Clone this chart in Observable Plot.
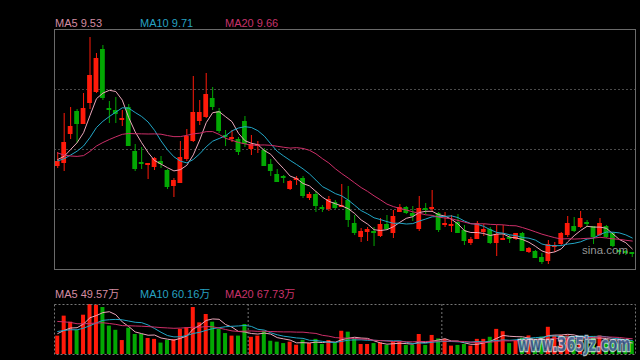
<!DOCTYPE html>
<html><head><meta charset="utf-8">
<script src="https://cdn.jsdelivr.net/npm/d3@7"></script>
<script src="https://cdn.jsdelivr.net/npm/@observablehq/plot@0.6"></script>
<style>
html,body{margin:0;padding:0;background:#000;width:640px;height:360px;overflow:hidden;}
#wrap{position:relative;width:640px;height:360px;font-family:"Liberation Sans",Arial,"Noto Sans CJK SC",sans-serif;}
.lbl{position:absolute;font-size:11px;line-height:11px;white-space:nowrap;}
#main{position:absolute;left:0;top:0;}
#vol{position:absolute;left:0;top:300px;}
#over{position:absolute;left:0;top:0;pointer-events:none;}
</style></head><body>
<div id="wrap"><div id="main"></div><div id="vol"></div></div>
<script>
// ---- data (prices in yuan, volumes in 万) ----
const opens = [11.16,11.22,11.80,12.26,12.00,12.42,12.64,13.50,12.32,12.28, 12.08,12.34,11.46,11.24,11.18,11.14,11.26,11.08,10.76,10.82, 11.30,11.66,12.06,12.14,12.52,12.26,11.78,11.70,11.70,12.06, 11.50,11.56,11.48,11.20,11.00,10.96,10.70,10.88,10.92,10.52, 10.60,10.34,10.30,10.44,10.34,10.48,10.02,9.74,9.84,9.86, 9.76,10.00,9.82,10.24,10.34,10.22,9.90,10.32,10.30,10.22, 9.98,9.96,10.04,9.88,9.62,9.70,9.84,9.90,9.62,9.68, 9.74,9.70,9.82,9.44,9.46,9.34,9.26,9.54,9.60,9.78, 9.96,9.94,10.04,9.96,9.78,9.96,9.82,9.48,9.46,9.44];
const highs = [11.44,12.22,12.34,12.30,12.62,13.74,13.42,13.58,12.46,12.54, 12.28,12.40,11.60,11.54,11.22,11.34,11.36,11.10,10.92,11.66, 11.90,12.96,12.48,13.02,12.74,12.32,11.88,11.88,11.74,12.16, 11.78,11.66,11.52,11.30,11.10,10.98,10.88,10.96,10.96,10.64, 10.66,10.38,10.56,10.48,10.80,10.76,10.18,9.92,9.94,9.94, 10.12,10.18,10.28,10.40,10.36,10.36,10.56,10.42,10.68,10.24, 10.24,10.18,10.20,9.98,9.74,10.06,10.00,9.94,9.98,9.98, 9.78,9.82,9.84,9.54,9.48,9.42,9.68,9.64,9.84,10.16, 10.14,10.26,10.08,9.96,10.12,9.98,9.84,9.48,9.48,9.44];
const lows = [11.12,11.06,11.70,11.62,12.00,12.30,12.62,12.48,12.02,12.02, 11.96,11.56,11.06,11.10,10.90,11.08,11.12,10.70,10.54,10.82, 11.26,11.64,11.98,12.12,12.28,11.82,11.56,11.64,11.38,11.54, 11.38,11.42,11.16,10.96,10.84,10.82,10.68,10.78,10.52,10.48, 10.24,10.24,10.26,10.30,10.34,9.94,9.78,9.64,9.66,9.56, 9.74,9.88,9.72,10.24,10.20,10.06,9.86,10.20,10.24,9.84, 9.94,9.84,9.82,9.58,9.58,9.70,9.76,9.60,9.36,9.68, 9.62,9.68,9.46,9.42,9.32,9.20,9.20,9.44,9.56,9.74, 9.84,9.92,9.94,9.60,9.76,9.72,9.54,9.38,9.38,9.34];
const closes = [11.26,11.64,11.96,12.00,12.32,12.98,13.32,12.52,12.28,12.20, 12.12,11.56,11.10,11.20,11.22,11.32,11.20,10.74,10.88,11.34, 11.76,12.24,12.24,12.60,12.34,11.86,11.74,11.74,11.44,11.60, 11.60,11.60,11.16,11.06,10.84,10.92,10.86,10.92,10.56,10.60, 10.36,10.30,10.50,10.32,10.38,10.08,9.82,9.86,9.90,9.82, 10.00,9.90,10.16,10.34,10.22,10.16,10.32,10.28,10.34,9.88, 10.02,10.00,9.82,9.66,9.70,10.02,9.90,9.62,9.80,9.72, 9.70,9.82,9.46,9.52,9.32,9.24,9.60,9.58,9.82,10.02, 9.86,10.12,10.00,9.74,10.02,9.74,9.56,9.44,9.42,9.40];
const volumes = [79,165,139,103,169,215,212,202,122,104, 60,113,86,86,69,65,49,61,64,108, 115,202,136,172,139,108,90,79,79,129, 74,79,100,57,53,47,53,40,61,47, 65,43,60,50,100,96,65,43,43,47, 50,39,53,53,39,39,86,39,82,67, 65,36,39,43,36,65,65,74,108,98, 47,57,70,80,65,75,117,80,82,80, 62,75,60,78,80,50,55,45,42,56];
// sessions before the visible window (seed the moving averages)
const histCloses = [12.48,12.32,12.16,12.00,11.28,11.18,11.12,11.08,11.12,11.14,11.20,11.22,11.24,11.28,11.28,11.32,11.28,11.32,11.32];
const histVolumes = [200,190,210,180,175,190,170,185,180,170,120,110,105,100,105,95,90,96,90];
const maNames = ["MA5", "MA10", "MA20"];
const maWindows = [5, 10, 20];
const maPriceLast = [9.53, 9.71, 9.66];
const maVolLast = [49.57, 60.16, 67.73];
const gridPrices = [10.3, 11.5, 12.7];
const periodStarts = [30, 60];

// ---- styles ----
const RED = "#ff1a0a", GREEN = "#03a803";
const maLine = ["#eca6ba", "#22a6c6", "#cd2f69"];
const maText = ["#d48ca2", "#27a2c2", "#c8336a"];

const candles = opens.map((o, i) => ({i, open: o, high: highs[i], low: lows[i], close: closes[i], volume: volumes[i]}));
const history = histCloses.map((c, k) => ({i: k - histCloses.length, close: c, volume: histVolumes[k]}));
const series = [...history, ...candles];
const colorOf = d => d.close >= d.open ? RED : GREEN;
const xVis = d => d.i < 0 ? NaN : d.i;
const xScale = {type: "linear", domain: [-0.5, candles.length - 0.5], axis: null};

const main = Plot.plot({
  width: 640, height: 270, marginTop: 29, marginBottom: 1, marginLeft: 54, marginRight: 5,
  style: {background: "transparent", overflow: "visible"},
  x: xScale,
  y: {domain: [9.1, 13.9], axis: null},
  color: {type: "identity"},
  marks: [
    Plot.ruleY(gridPrices, {stroke: "#4a4a4a", strokeDasharray: "2,2"}),
    Plot.ruleX(candles, {x: "i", y1: "low", y2: "high", stroke: colorOf}),
    Plot.rect(candles, {x1: d => d.i - 0.37, x2: d => d.i + 0.37, y1: "open", y2: "close", fill: colorOf}),
    ...maWindows.map((k, j) => Plot.line(series, Plot.windowY({k, anchor: "end", reduce: "mean"}, {x: xVis, y: "close", stroke: maLine[j], strokeWidth: 1}))),
    Plot.frame({stroke: "#6a6a6a"})
  ]
});
document.getElementById("main").appendChild(main);

const vol = Plot.plot({
  width: 640, height: 60, marginTop: 4, marginBottom: 6, marginLeft: 54, marginRight: 5,
  style: {background: "transparent", overflow: "visible"},
  x: xScale,
  y: {domain: [0, 215], axis: null},
  color: {type: "identity"},
  marks: [
    Plot.rect(candles, {x1: d => d.i - 0.31, x2: d => d.i + 0.31, y1: 0, y2: "volume", fill: colorOf}),
    ...maWindows.map((k, j) => Plot.line(series, Plot.windowY({k, anchor: "end", reduce: "mean"}, {x: xVis, y: "volume", stroke: maLine[j], strokeWidth: 1}))),
    Plot.ruleX(periodStarts, {x: d => d - 0.5, stroke: "#777", strokeDasharray: "2,2"}),
    Plot.frame({stroke: "#777", strokeDasharray: "2,2"})
  ]
});
document.getElementById("vol").appendChild(vol);

const wrap = document.getElementById("wrap");
const labelX = [55, 140, 225];
maNames.forEach((n, j) => {
  const a = document.createElement("div");
  a.className = "lbl"; a.style.left = labelX[j] + "px"; a.style.top = "18px"; a.style.color = maText[j];
  a.textContent = `${n} ${maPriceLast[j].toFixed(2)}`;
  wrap.appendChild(a);
  const b = document.createElement("div");
  b.className = "lbl"; b.style.left = labelX[j] + "px"; b.style.top = "289px"; b.style.color = maText[j];
  b.textContent = `${n} ${maVolLast[j].toFixed(2)}万`;
  wrap.appendChild(b);
});

// watermarks
const ns = "http://www.w3.org/2000/svg";
const over = document.createElementNS(ns, "svg");
over.setAttribute("id", "over"); over.setAttribute("width", 640); over.setAttribute("height", 360);
const t1 = document.createElementNS(ns, "text");
t1.setAttribute("x", 582); t1.setAttribute("y", 253.5);
t1.setAttribute("font-size", "11.5"); t1.setAttribute("fill", "#a8a8a8"); t1.setAttribute("fill-opacity", "0.9");
t1.setAttribute("font-family", "Liberation Sans, Arial, sans-serif");
t1.textContent = "sina.com";
over.appendChild(t1);
const t2 = document.createElementNS(ns, "text");
t2.setAttribute("x", 0); t2.setAttribute("y", 0);
t2.setAttribute("transform", "translate(518,350.5) scale(1,1.45)");
t2.setAttribute("font-size", "12.8"); t2.setAttribute("font-weight", "bold");
t2.setAttribute("font-family", "DejaVu Sans, Verdana, sans-serif");
t2.setAttribute("fill", "#2d4f86"); t2.setAttribute("fill-opacity", "0.8");
t2.setAttribute("stroke", "#dfeef6"); t2.setAttribute("stroke-opacity", "0.75"); t2.setAttribute("stroke-width", "1.6");
t2.setAttribute("paint-order", "stroke");
t2.textContent = "www.365jz.com";
over.appendChild(t2);
wrap.appendChild(over);
</script>
</body></html>
